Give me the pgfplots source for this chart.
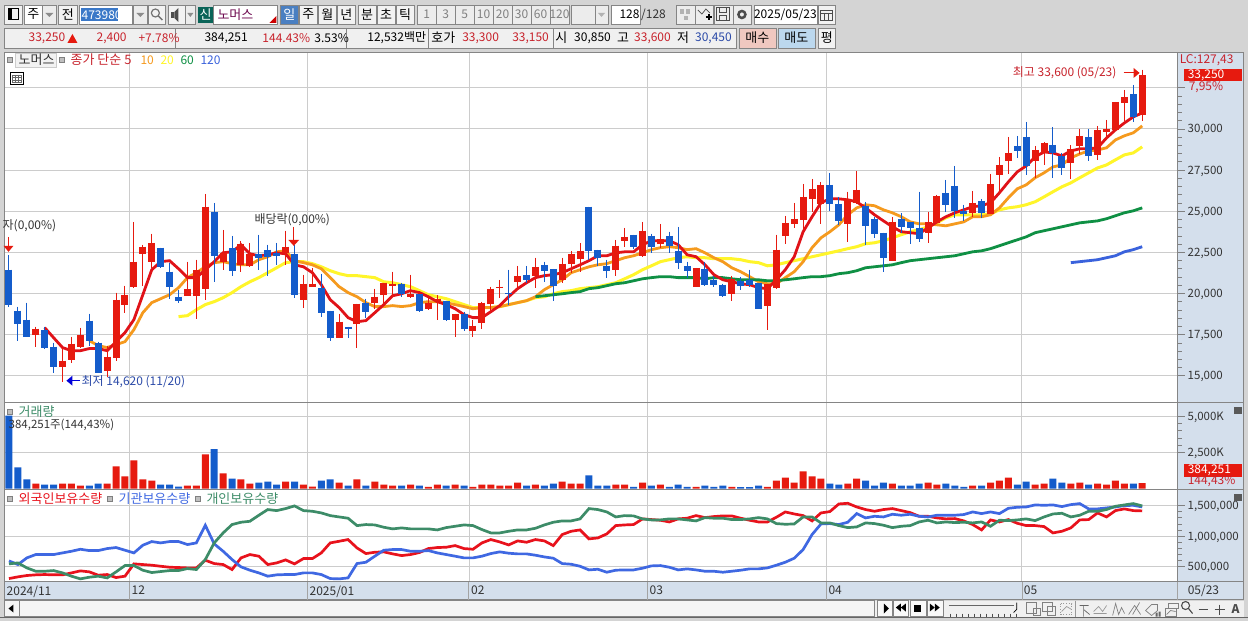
\documentclass[border=0pt]{standalone}
\usepackage{fontspec}
\setmainfont{Noto Sans CJK KR}
\usepackage{pgfplots}
\usepackage{pgfplotstable}
\pgfplotsset{compat=1.18}
\definecolor{candR}{HTML}{E61A0F}
\definecolor{candB}{HTML}{145CCB}
\definecolor{ma5}{HTML}{E01218}
\definecolor{ma10}{HTML}{F59A1E}
\definecolor{ma20}{HTML}{FFF52A}
\definecolor{ma60}{HTML}{0F9044}
\definecolor{ma120}{HTML}{3A62DC}
\definecolor{hR}{HTML}{E8121C}
\definecolor{hB}{HTML}{3F68E2}
\definecolor{hG}{HTML}{3D8C68}
\definecolor{panel}{HTML}{D4DFEC}
\definecolor{gridc}{HTML}{CCCCCC}
\definecolor{bord}{HTML}{858585}
\definecolor{txtR}{HTML}{C8232C}
\definecolor{txtB}{HTML}{2B4AA8}
\definecolor{txtK}{HTML}{333333}
% candles: x high bodytop bodybottom low
\pgfplotstableread{
x high top bot low
3 17980 17860 17500 16770
6 16710 15920 15550 14620
7 17370 16950 15980 15800
8 17920 17500 16770 16710
11 16830 16160 15310 14950
12 20050 19620 16100 15920
13 20470 19920 19320 18830
14 24350 21930 20410 20350
15 22960 22840 22410 20470
16 23630 23080 21930 21560
20 21930 20290 19860 19860
21 22050 21440 19860 18470
22 26050 25270 20290 19620
24 23870 22470 21930 21440
26 23200 23020 21740 21320
27 23080 22410 21680 21620
31 23810 22840 22470 21740
33 21140 20590 19620 19140
34 21560 20590 20410 20410
37 18770 18280 17310 17310
39 19380 19380 18160 16710
41 20290 19800 19440 19070
42 20650 20650 19920 19380
43 21320 20590 20470 19800
45 21140 19980 19800 19740
47 19860 19440 19070 19010
48 19920 19680 19560 18410
50 18770 18770 18410 17370
52 18410 18040 17740 17370
53 19500 19440 18220 17860
54 20410 20290 19380 18890
55 20830 20410 20350 19740
57 21680 21080 20710 20410
59 22170 21620 21080 20350
62 22170 21810 20830 20650
63 22590 22410 21810 21260
64 23080 22590 22110 21320
68 23260 22900 21440 21080
69 23990 23440 23200 22840
71 24350 23810 22290 22230
73 24230 23320 23020 22780
77 21560 21560 20410 20410
81 21080 20890 19980 19560
85 20590 20590 19260 17800
86 23570 22660 20350 20290
87 24720 24290 23500 23020
88 25510 24540 24230 23990
89 26660 25870 24480 23870
90 26960 26360 25750 24960
91 26780 26600 25450 24230
94 26180 25750 24230 23140
95 27450 26300 25510 25450
99 24660 24350 21990 21990
103 24960 24350 23690 23080
104 25990 25930 24290 24290
108 26240 25510 24900 24660
110 27270 26660 24840 24840
111 28300 27820 27210 26120
112 29520 28540 28060 27270
115 28970 28720 28060 27030
116 29210 29150 28540 27810
119 29030 28790 27940 26960
120 30000 29580 28970 28480
122 30180 29940 28420 28120
123 30550 30000 29820 29330
124 31640 31640 29940 29940
125 32370 31950 31580 30490
127 33600 33250 30850 30450
}\candRed
\pgfplotstableread{
x high top bot low
0 22350 21440 19320 19200
1 19200 18950 18160 17130
2 19440 18410 17370 17370
4 17980 17800 16710 16650
5 17010 16770 15550 15190
9 18770 18350 17130 16830
10 17070 17010 15190 15190
17 22780 22780 21620 21560
18 21870 21320 20410 19680
19 20230 19800 19560 19440
23 25510 24960 22290 20710
25 23500 22780 21380 21080
28 23570 22410 22170 21440
29 22960 22660 22230 21080
30 23080 22470 22290 21740
32 22960 22410 19920 19740
35 21200 20350 18830 18590
36 18950 18950 17310 17130
38 17980 17980 17860 17310
40 19680 19440 18890 18530
44 20650 20590 19980 19800
46 19980 19980 18950 18890
49 19560 19560 18410 18350
51 18890 18770 17860 17740
56 21440 20050 19980 19320
58 21680 21140 20830 20650
60 21930 21740 21380 20710
61 21500 21500 20470 19560
65 25270 25270 22590 22050
66 22660 22660 22170 21680
67 22050 21680 21380 20960
70 23570 23570 22840 22720
72 23630 23500 22840 22470
74 23750 23500 22900 22470
75 24050 22590 21870 21500
76 21930 21680 21380 20960
78 21930 21500 20530 20470
79 21080 20830 20530 20410
80 20590 20530 19860 19800
82 21020 20770 20470 20230
83 21440 20830 20530 20410
84 20650 20650 19070 19070
92 27330 26600 25450 25020
93 25870 25450 24410 24170
96 25570 25330 24110 22960
97 24660 24540 23630 23380
98 23690 23690 22170 21320
100 24900 24540 24050 23690
101 24350 24350 23990 23020
102 26180 23990 23320 23140
105 26900 26110 25390 24960
106 27750 26540 25020 24600
107 25390 25020 24840 24410
109 25750 25630 24900 24600
113 29580 28970 28660 28240
114 30430 29520 27750 27210
117 30120 29030 28540 27030
118 28540 28360 27630 27210
121 30000 29520 28360 28060
126 32670 32130 30730 30430
}\candBlue
\pgfplotstableread[row sep=\\]{x y\\4 17920\\5 17310\\6 16710\\7 16520\\8 16520\\9 16650\\10 16650\\11 16520\\12 17070\\13 17620\\14 18410\\15 19920\\16 21440\\17 21930\\18 21990\\19 21500\\20 20960\\21 20960\\22 21440\\23 21930\\24 22470\\25 22530\\26 22960\\27 22410\\28 22290\\29 22350\\30 22470\\31 22410\\32 21740\\33 21620\\34 21260\\35 20530\\36 19620\\37 19140\\38 18530\\39 18280\\40 18350\\41 18830\\42 19320\\43 19860\\44 19980\\45 20170\\46 20050\\47 19800\\48 19500\\49 19320\\50 19070\\51 18710\\52 18530\\53 18530\\54 18890\\55 19260\\56 19800\\57 20290\\58 20650\\59 20960\\60 21080\\61 21140\\62 21260\\63 21500\\64 21740\\65 21990\\66 22290\\67 22290\\68 22470\\69 22530\\70 22530\\71 22960\\72 23200\\73 23200\\74 23200\\75 22960\\76 22350\\77 22230\\78 21740\\79 21140\\80 20830\\81 20710\\82 20590\\83 20530\\84 20350\\85 20290\\86 20830\\87 21440\\88 22230\\89 23750\\90 24660\\91 25510\\92 25750\\93 25750\\94 25690\\95 25570\\96 25200\\97 24780\\98 24410\\99 24050\\100 23750\\101 23690\\102 23630\\103 23990\\104 24350\\105 24660\\106 24900\\107 25080\\108 25270\\109 25330\\110 25510\\111 26120\\112 26780\\113 27390\\114 27750\\115 28300\\116 28600\\117 28540\\118 28360\\119 28660\\120 28790\\121 28790\\122 28850\\123 29450\\124 29940\\125 30360\\126 30730\\127 30970\\}\maF
\pgfplotstableread[row sep=\\]{x y\\9 17130\\10 16830\\11 16710\\12 16890\\13 17070\\14 17800\\15 18830\\16 19440\\17 19680\\18 19920\\19 20350\\20 20960\\21 21260\\22 21620\\23 21870\\24 21930\\25 21810\\26 21740\\27 21740\\28 22050\\29 22230\\30 22530\\31 22590\\32 21990\\33 21870\\34 21740\\35 21500\\36 20960\\37 20410\\38 20050\\39 19800\\40 19440\\41 19200\\42 19200\\43 19260\\44 19200\\45 19260\\46 19440\\47 19500\\48 19500\\49 19440\\50 19320\\51 19200\\52 19070\\53 19140\\54 19140\\55 19200\\56 19320\\57 19440\\58 19560\\59 19800\\60 20230\\61 20530\\62 20830\\63 21260\\64 21440\\65 21620\\66 21740\\67 21810\\68 21990\\69 22170\\70 22290\\71 22470\\72 22660\\73 22780\\74 22840\\75 22780\\76 22660\\77 22720\\78 22470\\79 22170\\80 21930\\81 21560\\82 21320\\83 21020\\84 20710\\85 20590\\86 20590\\87 20960\\88 21320\\89 21930\\90 22780\\91 23380\\92 23750\\93 24170\\94 24780\\95 25200\\96 25390\\97 25330\\98 25080\\99 24900\\100 24660\\101 24350\\102 24230\\103 24230\\104 24170\\105 24110\\106 24230\\107 24350\\108 24660\\109 24660\\110 24780\\111 25200\\112 25810\\113 26360\\114 26600\\115 27030\\116 27330\\117 27690\\118 27810\\119 28240\\120 28480\\121 28660\\122 28720\\123 28850\\124 29330\\125 29580\\126 29760\\127 30180\\}\maT
\pgfplotstableread[row sep=\\]{x y\\19 18590\\20 18650\\21 19010\\22 19320\\23 19500\\24 19740\\25 20050\\26 20410\\27 20710\\28 20960\\29 21260\\30 21560\\31 21870\\32 21930\\33 21930\\34 21810\\35 21620\\36 21380\\37 21200\\38 21080\\39 21080\\40 21020\\41 20960\\42 20710\\43 20650\\44 20530\\45 20410\\46 20170\\47 19920\\48 19800\\49 19680\\50 19500\\51 19320\\52 19140\\53 19140\\54 19140\\55 19200\\56 19320\\57 19440\\58 19560\\59 19740\\60 19800\\61 19980\\62 20110\\63 20170\\64 20290\\65 20350\\66 20410\\67 20530\\68 20650\\69 20890\\70 21140\\71 21440\\72 21680\\73 21930\\74 22050\\75 22170\\76 22230\\77 22170\\78 22170\\79 22110\\80 22110\\81 22110\\82 22050\\83 21930\\84 21870\\85 21680\\86 21740\\87 21870\\88 21990\\89 22110\\90 22230\\91 22350\\92 22470\\93 22590\\94 22720\\95 22840\\96 23020\\97 23080\\98 23200\\99 23380\\100 23570\\101 23750\\102 23870\\103 24050\\104 24290\\105 24600\\106 24780\\107 24780\\108 24780\\109 24780\\110 24840\\111 25080\\112 25200\\113 25270\\114 25390\\115 25570\\116 25870\\117 26180\\118 26480\\119 26720\\120 27030\\121 27330\\122 27630\\123 27810\\124 28120\\125 28420\\126 28540\\127 28910\\}\maW
\pgfplotstableread[row sep=\\]{x y\\59 19800\\60 19860\\61 19920\\62 19980\\63 20050\\64 20110\\65 20290\\66 20350\\67 20470\\68 20590\\69 20650\\70 20770\\71 20890\\72 20960\\73 21020\\74 21020\\75 20960\\76 20960\\77 20960\\78 20890\\79 20960\\80 20960\\81 20890\\82 20830\\83 20830\\84 20830\\85 20770\\86 20770\\87 20830\\88 20890\\89 20960\\90 21020\\91 21020\\92 21080\\93 21200\\94 21260\\95 21380\\96 21560\\97 21620\\98 21680\\99 21740\\100 21870\\101 21990\\102 22050\\103 22110\\104 22170\\105 22230\\106 22290\\107 22410\\108 22530\\109 22590\\110 22720\\111 22900\\112 23080\\113 23260\\114 23440\\115 23690\\116 23810\\117 23930\\118 24050\\119 24170\\120 24290\\121 24350\\122 24410\\123 24540\\124 24720\\125 24900\\126 25020\\127 25200\\}\maS
\pgfplotstableread[row sep=\\]{x y\\119 21870\\120 21930\\121 21990\\122 22050\\123 22170\\124 22290\\125 22530\\126 22660\\127 22840\\}\maH
% volume, thousand shares
\pgfplotstableread[row sep=\\]{x y\\3 350\\6 350\\7 350\\8 210\\11 350\\12 1535\\13 838\\14 1954\\15 630\\16 558\\20 210\\21 210\\22 2373\\24 1047\\26 630\\27 350\\31 489\\33 280\\34 140\\37 419\\39 630\\41 489\\42 280\\43 210\\45 280\\47 120\\48 280\\50 280\\52 120\\53 280\\54 280\\55 210\\56 210\\57 419\\59 280\\62 489\\63 350\\64 350\\68 280\\69 280\\71 419\\73 280\\77 120\\81 120\\85 120\\86 558\\87 768\\88 419\\89 1187\\90 838\\91 698\\94 350\\95 698\\99 350\\103 419\\104 280\\108 210\\110 419\\111 558\\112 768\\115 280\\116 350\\119 350\\120 419\\122 350\\123 280\\124 558\\125 350\\127 384\\}\volR
\pgfplotstableread[row sep=\\]{x y\\0 5050\\1 1466\\2 630\\4 280\\5 280\\9 210\\10 350\\17 280\\18 280\\19 140\\23 2722\\25 698\\28 419\\29 489\\30 280\\32 489\\35 558\\36 630\\38 210\\40 210\\44 210\\46 210\\49 210\\51 210\\58 210\\60 210\\61 350\\65 907\\66 210\\67 210\\70 120\\72 210\\74 120\\75 280\\76 120\\78 210\\79 120\\80 210\\82 100\\83 100\\84 210\\92 350\\93 280\\96 558\\97 210\\98 419\\100 210\\101 210\\102 350\\105 350\\106 210\\107 120\\109 210\\113 280\\114 489\\117 698\\118 419\\121 280\\126 350\\}\volB
% holdings, thousand shares
\pgfplotstableread[row sep=\\]{x y\\0 303\\1 331\\2 353\\3 364\\4 369\\5 364\\6 364\\7 396\\8 429\\9 413\\10 358\\11 369\\12 320\\13 342\\14 544\\15 533\\16 522\\17 505\\18 489\\19 484\\20 478\\21 478\\22 604\\23 549\\24 533\\25 451\\26 642\\27 697\\28 670\\29 533\\30 560\\31 609\\32 544\\33 631\\34 631\\35 724\\36 888\\37 915\\38 943\\39 806\\40 713\\41 735\\42 741\\43 708\\44 680\\45 697\\46 730\\47 795\\48 812\\49 817\\50 844\\51 795\\52 784\\53 888\\54 943\\55 904\\56 855\\57 921\\58 899\\59 943\\60 921\\61 844\\62 1025\\63 1079\\64 1101\\65 954\\66 970\\67 1036\\68 1172\\69 1183\\70 1189\\71 1282\\72 1271\\73 1260\\74 1232\\75 1282\\76 1293\\77 1336\\78 1303\\79 1320\\80 1331\\81 1331\\82 1293\\83 1260\\84 1232\\85 1232\\86 1309\\87 1396\\88 1363\\89 1336\\90 1249\\91 1380\\92 1402\\93 1527\\94 1538\\95 1478\\96 1435\\97 1407\\98 1435\\99 1451\\100 1418\\101 1385\\102 1325\\103 1325\\104 1298\\105 1282\\106 1287\\107 1249\\108 1189\\109 1101\\110 1265\\111 1232\\112 1271\\113 1210\\114 1172\\115 1172\\116 1156\\117 1052\\118 1079\\119 1134\\120 1265\\121 1271\\122 1380\\123 1314\\124 1418\\125 1446\\126 1418\\127 1413\\}\holdF
\pgfplotstableread[row sep=\\]{x y\\0 593\\1 533\\2 642\\3 697\\4 697\\5 697\\6 724\\7 751\\8 784\\9 762\\10 762\\11 795\\12 812\\13 768\\14 724\\15 850\\16 910\\17 888\\18 910\\19 910\\20 861\\21 888\\22 1178\\23 872\\24 751\\25 615\\26 495\\27 440\\28 396\\29 342\\30 364\\31 369\\32 369\\33 396\\34 396\\35 369\\36 303\\37 298\\38 314\\39 549\\40 571\\41 670\\42 768\\43 779\\44 779\\45 751\\46 751\\47 762\\48 724\\49 697\\50 670\\51 642\\52 642\\53 670\\54 713\\55 741\\56 719\\57 708\\58 708\\59 686\\60 658\\61 637\\62 549\\63 538\\64 505\\65 445\\66 456\\67 407\\68 440\\69 445\\70 445\\71 473\\72 511\\73 516\\74 489\\75 445\\76 462\\77 445\\78 423\\79 423\\80 407\\81 423\\82 440\\83 462\\84 462\\85 478\\86 522\\87 571\\88 637\\89 779\\90 1025\\91 1199\\92 1205\\93 1189\\94 1227\\95 1369\\96 1298\\97 1325\\98 1314\\99 1358\\100 1342\\101 1358\\102 1325\\103 1314\\104 1342\\105 1342\\106 1342\\107 1353\\108 1396\\109 1369\\110 1396\\111 1369\\112 1456\\113 1473\\114 1478\\115 1511\\116 1505\\117 1511\\118 1484\\119 1516\\120 1533\\121 1446\\122 1446\\123 1462\\124 1478\\125 1500\\126 1505\\127 1478\\}\holdI
\pgfplotstableread[row sep=\\]{x y\\0 544\\1 560\\2 478\\3 423\\4 423\\5 434\\6 396\\7 342\\8 298\\9 325\\10 342\\11 314\\12 413\\13 516\\14 516\\15 440\\16 402\\17 418\\18 434\\19 434\\20 467\\21 451\\22 615\\23 888\\24 1052\\25 1189\\26 1227\\27 1243\\28 1342\\29 1435\\30 1418\\31 1451\\32 1495\\33 1418\\34 1407\\35 1380\\36 1336\\37 1314\\38 1293\\39 1172\\40 1189\\41 1183\\42 1145\\43 1118\\44 1134\\45 1118\\46 1118\\47 1118\\48 1101\\49 1139\\50 1161\\51 1183\\52 1172\\53 1107\\54 1052\\55 1052\\56 1079\\57 1101\\58 1101\\59 1128\\60 1183\\61 1227\\62 1249\\63 1249\\64 1282\\65 1451\\66 1435\\67 1396\\68 1314\\69 1336\\70 1331\\71 1282\\72 1265\\73 1265\\74 1282\\75 1282\\76 1265\\77 1249\\78 1303\\79 1293\\80 1293\\81 1271\\82 1271\\83 1282\\84 1303\\85 1282\\86 1205\\87 1194\\88 1199\\89 1314\\90 1314\\91 1216\\92 1216\\93 1172\\94 1139\\95 1150\\96 1216\\97 1205\\98 1178\\99 1139\\100 1161\\101 1172\\102 1232\\103 1260\\104 1216\\105 1232\\106 1221\\107 1227\\108 1216\\109 1232\\110 1161\\111 1260\\112 1254\\113 1265\\114 1282\\115 1254\\116 1314\\117 1363\\118 1374\\119 1314\\120 1342\\121 1407\\122 1407\\123 1435\\124 1489\\125 1511\\126 1533\\127 1495\\}\holdP
\newcommand{\fs}[1]{\fontsize{#1}{#1}\selectfont}
% text: size, x, y, colour, text
\newcommand{\T}[5]{\node[anchor=west,inner sep=0pt,text=#4,font=\fs{#1}] at (#2,#3+1) {#5};}
% button: x1,y1,x2,y2,fill,text,textcolour
\newcommand{\B}[7]{\draw[draw=bord,fill=#5,line width=0.7pt] (#1,#2) rectangle (#3,#4); \node[inner sep=0pt,text=#7,font=\fs{12}] at ({(#1+#3)/2},{(#2+#4)/2}) {#6};}
\newcommand{\K}[1]{{\fs{13}#1}}
\newcommand{\sq}[2]{\draw[draw=gray,fill=gray!50,line width=0.6pt] (#1-2.5,#2-2.5) rectangle (#1+2.5,#2+2.5);}
\pgfplotsset{
  chart/.style={
    at={(4pt,#1)},anchor=north west,scale only axis,width=1174pt,
    xmin=-0.504,xmax=130.96,clip=true,
    xtick={-0.5,13.5,33.45,51.55,71.55,91.6,113.5},
    xticklabels={},
    xmajorgrids,ymajorgrids,
    grid style={draw=gridc,line width=0.8pt},
    axis line style={draw=bord,line width=0.9pt},
    ytick pos=right,
    scaled y ticks=false,
    tick align=outside,
    major tick length=7pt,minor tick length=4pt,
    x tick style={draw=none},
    y tick style={draw=gray,line width=0.6pt},
    yticklabel style={anchor=west,inner sep=0pt,xshift=3pt,yshift=-1pt,font=\fs{11.5},text=txtK},
  },
  candlebody/.style={forget plot,draw=none,mark=none,
    error bars/.cd,y dir=minus,y explicit,error mark=none,error bar style={draw=#1,line width=7pt}},
  candlewick/.style={forget plot,draw=none,mark=none,
    error bars/.cd,y dir=minus,y explicit,error mark=none,error bar style={draw=#1,line width=1pt}},
}
\begin{document}
\begin{tikzpicture}
\begin{scope}[x=1pt,y=-1pt]
\useasboundingbox (0,0) rectangle (1248,621);
\fill[color={rgb,255:red,212;green,212;blue,212}] (0,0) rectangle (1248,621);
\fill[panel] (1178,52) rectangle (1244,600);
\fill[white] (4,52) rectangle (1178,582);
\fill[panel] (4,582) rectangle (1178,600);
\draw[bord,line width=0.9pt] (4,582) rectangle (1244,600);
\draw[bord,line width=0.9pt] (4,52) rectangle (1244,600);
\foreach \xx in {129.3,307.3,468.7,647.5,826.5,1022.3,1178}{\draw[gridc!80!black,line width=0.8pt] (\xx,582) -- (\xx,600);}
\end{scope}

% price panel
\begin{axis}[chart=-52pt,height=351pt,ymin=13361,ymax=34675,
  ytick={15000,17500,20000,22500,25000,27500,30000,32500},
  yticklabels={{15,000},{17,500},{20,000},{22,500},{25,000},{27,500},{30,000},{}},
  minor y tick num=4]
\addplot[ma20,line width=3pt,forget plot] table[x=x,y=y]{\maW};
\addplot[ma10,line width=2.8pt,forget plot] table[x=x,y=y]{\maT};
\addplot[ma60,line width=2.8pt,forget plot] table[x=x,y=y]{\maS};
\addplot[ma120,line width=2.8pt,forget plot] table[x=x,y=y]{\maH};
\addplot[ma5,line width=2.8pt,forget plot] table[x=x,y=y]{\maF};
\addplot[candlewick=candR] table[x=x,y=high,y error minus expr=\thisrow{high}-\thisrow{low}]{\candRed};
\addplot[candlewick=candB] table[x=x,y=high,y error minus expr=\thisrow{high}-\thisrow{low}]{\candBlue};
\addplot[candlebody=candR] table[x=x,y=top,y error minus expr=\thisrow{top}-\thisrow{bot}]{\candRed};
\addplot[candlebody=candB] table[x=x,y=top,y error minus expr=\thisrow{top}-\thisrow{bot}]{\candBlue};
\end{axis}

% volume panel
\begin{axis}[chart=-403pt,height=87pt,ymin=-70,ymax=5942,
  ytick={2500,5000},yticklabels={{2,500K},{5,000K}},minor y tick num=4]
\addplot[ybar,bar width=7pt,bar shift=0pt,fill=candR,draw=none,forget plot] table[x=x,y=y]{\volR};
\addplot[ybar,bar width=7pt,bar shift=0pt,fill=candB,draw=none,forget plot] table[x=x,y=y]{\volB};
\end{axis}

% holdings panel
\begin{axis}[chart=-490pt,height=92pt,ymin=254.1,ymax=1762.3,
  ytick={500,1000,1500},yticklabels={{500,000},{1,000,000},{1,500,000}},minor y tick num=4,
  xticklabels={2024/11,12,2025/01,02,03,04,05},
  xticklabel style={anchor=north west,inner sep=0pt,xshift=2pt,yshift=3pt,font=\fs{12},text=txtK}]
\addplot[hR,line width=2.7pt,forget plot] table[x=x,y=y]{\holdF};
\addplot[hB,line width=2.7pt,forget plot] table[x=x,y=y]{\holdI};
\addplot[hG,line width=2.7pt,forget plot] table[x=x,y=y]{\holdP};
\end{axis}

\begin{scope}[x=1pt,y=-1pt]
% separators between panels
\draw[bord,line width=1pt] (4,403) -- (1244,403);
\draw[bord,line width=1pt] (4,490) -- (1244,490);
% toolbar row 1
\draw[bord,fill=gray!10] (4,5) rectangle (22,24); \draw[black,line width=1pt] (8,9) rectangle (18,20); \fill[black] (8,9) rectangle (12,20);
\B{24}{5}{42}{24}{white}{\K{주}}{black}
\B{42}{5}{56}{24}{gray!15}{}{black}\fill[gray!90] (45,13)--(53,13)--(49,17)--cycle;
\B{58}{5}{77}{24}{gray!10}{\K{전}}{black}
\B{79}{5}{132}{24}{white}{}{black}\fill[color={rgb,255:red,58;green,120;blue,200}] (81,8) rectangle (118,21);\T{12}{81}{14.5}{white}{473980}
\B{133}{5}{147}{24}{gray!15}{}{black}\fill[gray!90] (136,13)--(144,13)--(140,17)--cycle;
\B{148}{5}{165}{24}{gray!10}{}{black}\draw[gray!90!black,line width=1.2pt] (155,13) circle (4); \draw[gray!90!black,line width=1.5pt] (158,16)--(162,20);
\B{168}{5}{185}{24}{gray!10}{}{black}\fill[gray!60!black] (171,12) rectangle (174,18); \fill[gray!60!black] (174,12)--(178,8)--(178,22)--(174,18)--cycle;
\B{185}{5}{195}{24}{gray!15}{}{black}\fill[gray!90] (187,13)--(193,13)--(190,17)--cycle;
\fill[color={rgb,255:red,10;green,100;blue,88}] (198,7) rectangle (213,23); \T{13}{199}{14}{white}{신}
\draw[bord,fill=white] (213,5) rectangle (277,24); \T{13}{217}{13.5}{{rgb,255:red,110;green,10;blue,80}}{노머스}
\fill[red!80!black] (276,23)--(269,23)--(276,16)--cycle;
\B{280}{5}{298}{24}{{rgb,255:red,74;green,127;blue,193}}{\K{일}}{white}
\B{299}{5}{317}{24}{gray!10}{\K{주}}{black}
\B{318}{5}{336}{24}{gray!10}{\K{월}}{black}
\B{337}{5}{355}{24}{gray!10}{\K{년}}{black}
\B{358}{5}{376}{24}{gray!10}{\K{분}}{black}
\B{377}{5}{395}{24}{gray!10}{\K{초}}{black}
\B{396}{5}{414}{24}{gray!10}{\K{틱}}{black}
\B{417}{5}{436}{24}{gray!15}{1}{gray}
\B{436}{5}{455}{24}{gray!15}{3}{gray}
\B{455}{5}{474}{24}{gray!15}{5}{gray}
\B{474}{5}{493}{24}{gray!15}{10}{gray}
\B{493}{5}{512}{24}{gray!15}{20}{gray}
\B{512}{5}{531}{24}{gray!15}{30}{gray}
\B{531}{5}{550}{24}{gray!15}{60}{gray}
\B{550}{5}{569}{24}{gray!15}{120}{gray}
\B{571}{5}{595}{24}{gray!15}{}{gray}
\B{595}{5}{608}{24}{gray!15}{}{gray}\fill[gray!60] (598,13)--(605,13)--(601.5,17)--cycle;
\B{611}{5}{640}{24}{white}{\hspace*{8pt}128}{black}
\T{12}{641}{14}{txtK}{/128}
\B{676}{5}{695}{24}{gray!15}{}{gray}\fill[gray!60] (680,9) rectangle (684,14);\fill[gray!60] (686,9) rectangle (690,14);\fill[gray!60] (684,16) rectangle (688,20);
\B{695}{5}{713}{24}{gray!15}{}{gray}\draw[black!70,line width=0.7pt] (698,10)--(702,14)--(706,9)--(710,13); \draw[black,line width=1.3pt] (706,17)--(712,17) (709,14)--(709,20);
\B{714}{5}{733}{24}{gray!15}{}{gray}\draw[black!70,line width=1pt] (717,8) rectangle (730,21) (720,8) rectangle (727,13) (720,16) rectangle (727,21);
\B{733}{5}{751}{24}{gray!15}{}{gray}\draw[black!70,line width=2.5pt] (742,14.5) circle (3.5);
\B{754}{5}{817}{24}{white}{2025/05/23}{black}
\B{818}{5}{836}{24}{gray!10}{}{black}\draw[black!70,line width=0.8pt] (821,10) rectangle (833,20) (821,13)--(833,13) (825,13)--(825,20) (829,13)--(829,20);
% toolbar row 2
\draw[bord,fill=gray!12] (4,28) rectangle (175,48);
\draw[bord,fill=gray!12] (175,28) rectangle (346,48);
\draw[bord,fill=gray!12] (346,28) rectangle (428,48);
\draw[bord,fill=gray!12] (428,28) rectangle (553,48);
\draw[bord,fill=gray!12] (553,28) rectangle (736,48);
\T{12}{28}{37}{txtR}{33,250}
\fill[candR] (67,43)--(77,43)--(72,34)--cycle;
\T{12}{96}{37}{txtR}{2,400}
\T{12}{138}{37}{txtR}{+7.78\%}
\T{12}{204}{37}{black}{384,251}
\T{12}{262}{37}{txtR}{144.43\%}
\T{12}{314}{37}{black}{3.53\%}
\T{12}{367}{37}{black}{12,532백만}
\T{13}{431}{37}{black}{호가}
\T{12}{462}{37}{txtR}{33,300}
\T{12}{512}{37}{txtR}{33,150}
\T{13}{555}{37}{black}{시}
\T{12}{574}{37}{black}{30,850}
\T{13}{617}{37}{black}{고}
\T{12}{634}{37}{txtR}{33,600}
\T{13}{677}{37}{black}{저}
\T{12}{695}{37}{txtB}{30,450}
\B{739}{28}{776}{48}{{rgb,255:red,240;green,200;blue,192}}{\K{매수}}{black}
\B{778}{28}{815}{48}{{rgb,255:red,188;green,216;blue,238}}{\K{매도}}{black}
\B{818}{28}{836}{48}{gray!10}{\K{평}}{black}
% legend of the price panel
\sq{9}{60}
\draw[gridc,fill=gray!10] (15,53) rectangle (56,67); \T{13}{18}{59}{txtK}{노머스}
\sq{61}{60}
\T{13}{70}{59}{txtR}{종가 단순 5}
\T{12}{140}{59}{ma10}{10}
\T{12}{160}{59}{ma20}{20}
\T{12}{180}{59}{ma60}{60}
\T{12}{200}{59}{ma120}{120}
\draw[black,line width=0.8pt] (9.5,72.5) rectangle (22.5,84.5);
\draw[black!60,line width=0.5pt] (11.5,75) rectangle (20.5,82.5) (11.5,77.5)--(20.5,77.5) (11.5,80)--(20.5,80) (14.5,75)--(14.5,82.5) (17.5,75)--(17.5,82.5);
% notes on the price panel
\T{12}{1013}{72}{txtR}{최고 33,600 (05/23)}
\draw[candR,line width=0.9pt] (1124,73)--(1134,73); \fill[candR] (1134,68)--(1140,73)--(1134,78)--cycle;
\T{12}{2}{225}{txtK}{자(0,00\%)}
\draw[candR,line width=0.9pt] (8,237)--(8,246); \fill[candR] (3,246)--(13,246)--(8,252)--cycle;
\T{12}{254}{219}{txtK}{배당락(0,00\%)}
\draw[candR,line width=0.9pt] (293.5,227)--(293.5,240); \fill[candR] (288,240)--(299,240)--(293.5,246)--cycle;
\fill[blue!85!black] (66,381)--(72,376)--(72,386)--cycle; \draw[blue!85!black,line width=0.9pt] (72,381)--(80,381);
\T{12}{81}{381}{txtB}{최저 14,620 (11/20)}
% right-hand labels
\T{12}{1180}{59}{txtR}{LC:127,43}
\fill[candR] (1184,69) rectangle (1242,81);
\T{12}{1188}{74}{white}{33,250}
\T{12}{1189}{86}{txtR}{7,95\%}
\fill[candR] (1184,464) rectangle (1242,477);
\T{12}{1188}{469.5}{white}{384,251}
\T{12}{1188}{481}{txtR}{144,43\%}
\fill[gray!70!black] (1234,407) rectangle (1242,414);
\fill[gray!70!black] (1234,494) rectangle (1242,501);
\T{12}{1188}{590}{txtK}{05/23}
% volume and holdings legends
\sq{9}{412}
\T{13}{18}{411}{hG}{거래량}
\T{11.5}{8}{424}{txtK}{384,251주(144,43\%)}
\sq{9}{499}
\T{13}{18}{498}{hR}{외국인보유수량}
\sq{109}{499}
\T{13}{118}{498}{hB}{기관보유수량}
\sq{197}{499}
\T{13}{206}{498}{hG}{개인보유수량}
% scrollbar
\fill[gray!12] (4,601) rectangle (1244,617);
\draw[black!60,line width=1pt] (0,618)--(1248,618);
\draw[bord,fill=gray!8] (4,601) rectangle (19,617);
\fill[black] (8,609)--(13,605)--(13,613)--cycle;
\draw[bord,fill=gray!8] (19,601) rectangle (874,617);
\draw[bord,fill=gray!5] (877,601) rectangle (892,617); \fill[black] (884,604)--(889,609)--(884,614)--cycle;
\draw[bord,fill=gray!5] (893,601) rectangle (908,617); \fill[black] (896,608)--(901,604)--(901,612)--cycle; \fill[black] (901,608)--(906,604)--(906,612)--cycle;
\draw[bord,fill=gray!5] (910,601) rectangle (926,617); \fill[black] (914,605) rectangle (921,612);
\draw[bord,fill=gray!5] (927,601) rectangle (943,617); \fill[black] (930,604)--(935,608)--(930,612)--cycle; \fill[black] (935,604)--(940,608)--(935,612)--cycle;
\draw[gray!80!black,line width=1.2pt] (949,606)--(1014,606);
\draw[black,line width=0.7pt] (1017,603)--(1017,610)--(1014,613);
\foreach \xx in {951,957,...,1017}{\draw[black!70,line width=0.6pt] (\xx,614)--(\xx,617);}
\draw[black!50,line width=0.7pt] (1027,603) rectangle (1037,614) (1034,609) rectangle (1041,616);
\draw[black!50,line width=0.7pt] (1043,603) rectangle (1053,612) (1048,607) rectangle (1056,616);
\draw[black!40,line width=0.7pt,dotted] (1061,604) rectangle (1072,615); \draw[black!40,line width=0.7pt] (1062,612)--(1067,607)--(1072,610);
\draw[black!40,line width=0.5pt] (1076,601)--(1076,617);
\draw[black!60,line width=0.7pt] (1080,606)--(1089,606) (1084,606)--(1084,617) (1084,610)--(1090,615);
\draw[black!40,line width=0.7pt] (1094,612)--(1099,607)--(1103,612)--(1107,606) (1094,614)--(1107,614);
\draw[black!50,line width=0.7pt] (1113,616)--(1116,604)--(1119,615)--(1122,608)--(1125,614);
\draw[black!50,line width=0.7pt] (1129,615)--(1135,606)--(1141,615) (1133,615)--(1140,603);
\draw[black!50,line width=0.7pt] (1146,611)--(1152,605)--(1158,605)--(1158,611)--(1152,616)--cycle; \fill[black!60] (1156,613) rectangle (1158,617) (1159,612) rectangle (1161,617);
\draw[black!50,line width=0.7pt] (1166,609) rectangle (1177,617) (1167,615)--(1171,611)--(1176,612) (1169,604) rectangle (1179,609);
\draw[black!70,line width=1.1pt] (1186,606) circle (4) (1189,609)--(1193,614);
\draw[black!70,line width=1.6pt] (1199,610)--(1208,610);
\draw[black!70,line width=1.6pt] (1215,610)--(1225,610) (1220,605)--(1220,615);
\node[inner sep=0pt,text=black!70,font=\bfseries\fs{12}] at (1236,609.5) {A};
\end{scope}
\end{tikzpicture}
\end{document}
